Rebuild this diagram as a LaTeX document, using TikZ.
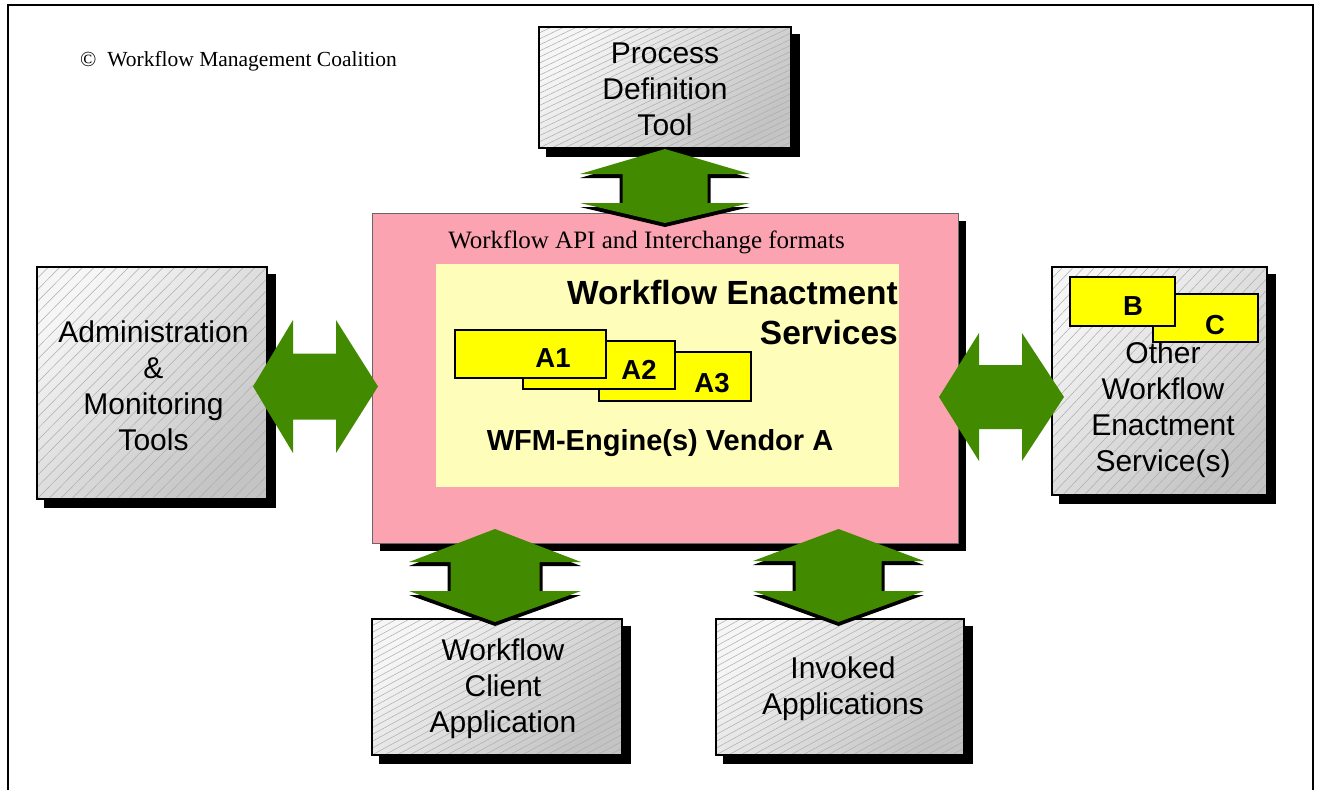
\documentclass[tikz,border=0pt]{standalone}
\usepackage{fontspec}
\setmainfont{Liberation Serif}
\newfontfamily\sansfam{Liberation Sans}
\usetikzlibrary{calc,backgrounds}

\definecolor{pinkbg}{RGB}{252,163,178}
\definecolor{paleyellow}{RGB}{254,253,186}
\definecolor{tagyellow}{RGB}{255,255,0}
\definecolor{arrowgreen}{RGB}{66,138,0}
\definecolor{boxlight}{RGB}{246,246,246}
\definecolor{boxdark}{RGB}{196,196,196}
\definecolor{hatchgray}{RGB}{172,172,172}

\tikzset{
  hatchline/.style={draw=hatchgray, line width=0.5pt},
  graybox/.style={draw=black, line width=1.2pt, top color=boxlight, bottom color=boxdark,
    shading angle=45, inner sep=0pt,
    path picture={
      \foreach \k in {-19,...,19}{
        \draw[hatchline] let \p1=(path picture bounding box.south west),
                             \p2=(path picture bounding box.north east),
                             \n1={(\x2-\x1)*\k/20} in
          (\x1+\n1,\y1) -- (\x2+\n1,\y2);
      }}},
  boxlabel/.style={font=\sansfam\fontsize{30}{36}\selectfont, align=center, inner sep=0pt},
  tagbox/.style={draw=black, line width=1.2pt, fill=tagyellow, inner sep=0pt},
  tagtext/.style={font=\sansfam\bfseries\fontsize{27.5}{30}\selectfont, inner sep=0pt},
  blockarrow/.style={fill=arrowgreen},
  blockshadow/.style={fill=black},
}

% black offset shadow behind a named box
\newcommand\boxshadow[1]{%
  \begin{scope}[on background layer]
    \fill[black] ([shift={(8pt,-8pt)}]#1.south west) rectangle ([shift={(8pt,-8pt)}]#1.north east);
  \end{scope}}

% vertical double block arrow: cx, top tip, upper base, lower base, bottom tip, head half width, shaft half width
\newcommand\vblock[7]{%
  \fill[blockshadow] (#1,#2+4) -- (#1+#6,#3+4) -- (#1+#7+3,#3+4) -- (#1+#7+3,#4+4) -- (#1+#6,#4+4)
    -- (#1,#5+4) -- (#1-#6,#4+4) -- (#1-#7-3,#4+4) -- (#1-#7-3,#3+4) -- (#1-#6,#3+4) -- cycle;
  \fill[blockarrow] (#1,#2) -- (#1+#6,#3) -- (#1+#7,#3) -- (#1+#7,#4) -- (#1+#6,#4)
    -- (#1,#5) -- (#1-#6,#4) -- (#1-#7,#4) -- (#1-#7,#3) -- (#1-#6,#3) -- cycle;}

% horizontal double block arrow: cy, left tip, left base, right base, right tip, head half height, shaft half height
\newcommand\hblock[7]{%
  \fill[blockarrow] (#2,#1) -- (#3,#1-#6) -- (#3,#1-#7) -- (#4,#1-#7) -- (#4,#1-#6)
    -- (#5,#1) -- (#4,#1+#6) -- (#4,#1+#7) -- (#3,#1+#7) -- (#3,#1+#6) -- cycle;}

\begin{document}
\begin{tikzpicture}[x=1pt,y=-1pt]
\useasboundingbox (0,0) rectangle (1318,790);

% page frame, open at the bottom
\draw[line width=2.5pt] (8,790) -- (8,5) -- (1313,5) -- (1313,790);

\node[anchor=west, inner sep=0pt, font=\fontsize{21.5}{24}\selectfont] (copy) at (80,61)
  {©\ \ Workflow Management Coalition};

% central enactment service
\node[draw=black!60, line width=0.8pt, fill=pinkbg, minimum width=586pt, minimum height=330pt, inner sep=0pt] (api) at (665,378) {};
\boxshadow{api}
\node[fill=paleyellow, minimum width=463pt, minimum height=223pt, inner sep=0pt] (wes) at (667.5,375.5) {};
\node[inner sep=0pt, font=\fontsize{25}{28}\selectfont] (apitext) at (646.5,242) {Workflow API and Interchange formats};
\node[font=\sansfam\bfseries\fontsize{33.5}{40}\selectfont, align=right, anchor=east, inner sep=0pt] (westext) at (898,313)
  {Workflow Enactment\\Services};

\node[tagbox, minimum width=152pt, minimum height=49pt] (a3) at (675,376.5) {};
\node[tagbox, minimum width=152pt, minimum height=48pt] (a2) at (599,365) {};
\node[tagbox, minimum width=151pt, minimum height=48pt] (a1) at (530.5,354) {};
\node[tagtext] (a1t) at (553,358) {A1};
\node[tagtext] (a2t) at (639,370) {A2};
\node[tagtext] (a3t) at (712,383) {A3};
\node[font=\sansfam\bfseries\fontsize{29}{34}\selectfont, inner sep=0pt] (engine) at (660,443) {WFM-Engine(s) Vendor A};

% surrounding components
\node[graybox, minimum width=252pt, minimum height=121pt] (pdt) at (665,87.5) {};
\boxshadow{pdt}
\node[boxlabel] (pdtt) at (665,89) {Process\\Definition\\Tool};

\node[graybox, minimum width=230pt, minimum height=232pt] (adm) at (152,383) {};
\boxshadow{adm}
\node[boxlabel] (admt) at (153.5,386) {Administration\\\&\\Monitoring\\Tools};

\node[graybox, minimum width=215pt, minimum height=228pt] (owes) at (1159.5,381) {};
\boxshadow{owes}
\node[tagbox, minimum width=105pt, minimum height=48pt] (c) at (1205.5,318) {};
\node[tagbox, minimum width=105pt, minimum height=49pt] (b) at (1122.5,301.5) {};
\node[tagtext] (bt) at (1133,306) {B};
\node[tagtext] (ct) at (1215,325) {C};
\node[boxlabel] (owest) at (1163,410) {Other\\Workflow\\Enactment\\Service(s)};

\node[graybox, minimum width=250pt, minimum height=136pt] (wcl) at (497,687) {};
\boxshadow{wcl}
\node[boxlabel] (wclt) at (503,689) {Workflow\\Client\\Application};

\node[graybox, minimum width=248pt, minimum height=136pt] (inv) at (840,687) {};
\boxshadow{inv}
\node[boxlabel] (invt) at (843,689) {Invoked\\Applications};

% interface arrows
\vblock{665}{149}{174}{203}{223}{85}{42.5}
\vblock{495}{529}{562}{591}{622}{86}{44.5}
\vblock{838.5}{529}{561}{591}{622}{85.5}{43}
\hblock{386.5}{253}{293}{336}{378}{66.5}{33}
\hblock{397}{939}{979}{1022}{1064}{64}{32}
\end{tikzpicture}
\end{document}
